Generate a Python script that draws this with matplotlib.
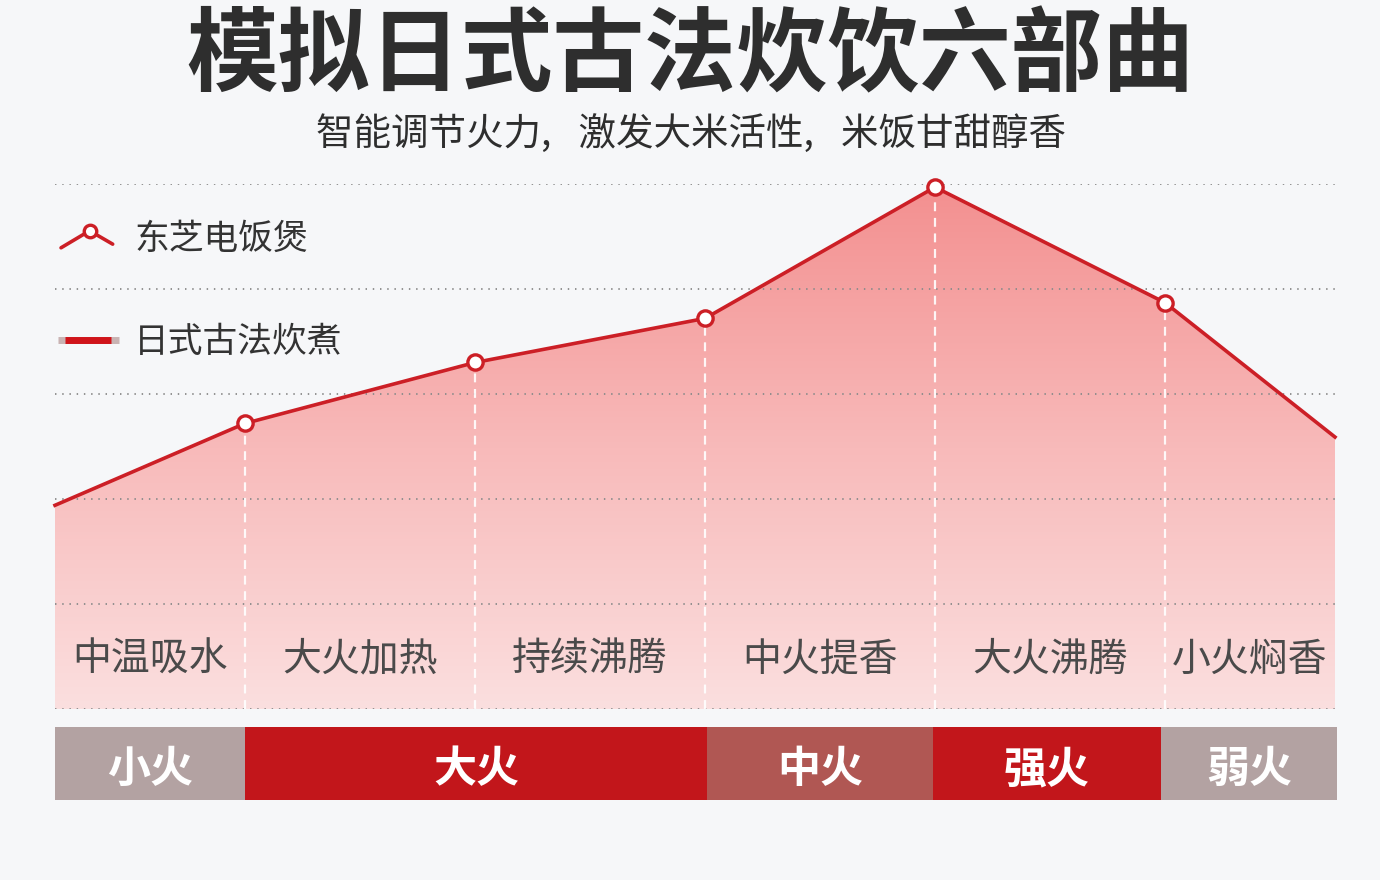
import numpy as np
import matplotlib
matplotlib.use("Agg")
import matplotlib.pyplot as plt
from matplotlib.lines import Line2D
from matplotlib.colors import LinearSegmentedColormap
from matplotlib.patches import Polygon
from matplotlib.legend_handler import HandlerBase

plt.rcParams['font.family'] = ['Noto Sans CJK SC', 'DejaVu Sans']

# ---------------- data ----------------
title = "模拟日式古法炊饮六部曲"
subtitle = "智能调节火力, \u2002激发大米活性, \u2002米饭甘甜醇香"
series_label = "东芝电饭煲"
ref_label = "日式古法炊煮"
point_x = [0, 19, 42, 65, 88, 111, 128]
point_y = [1.94, 2.72, 3.30, 3.72, 4.97, 3.87, 2.59]
stage_names = ["中温吸水", "大火加热", "持续沸腾", "中火提香", "大火沸腾", "小火焖香"]
heat_names = ["小火", "大火", "中火", "强火", "弱火"]
heat_edges = [0, 19, 65.2, 87.8, 110.6, 128.2]
heat_colors = ["#b3a2a2", "#c2161b", "#b05753", "#c2161b", "#b3a2a2"]

RED = "#cc1f26"
BG = "#f6f7f9"

W, H = 1380, 880
fig = plt.figure(figsize=(W / 100, H / 100), dpi=100, facecolor=BG)

def fx(px):
    return px / W

def fy(py):
    return 1 - py / H

# main axes: x 55..1335, y 184..709 px
ax = fig.add_axes([fx(55), fy(709), fx(1335) - fx(55), fy(184) - fy(709)])
ax.set_facecolor(BG)
ax.set_xlim(0, 128)
ax.set_ylim(0, 5)
for s in ax.spines.values():
    s.set_visible(False)
ax.set_xticks([])
ax.set_yticks([])

# gradient fill under the line
cmap = LinearSegmentedColormap.from_list("g", ["#fbdfdf", "#f8baba", "#f39090"])
grad = np.linspace(0, 1, 256).reshape(-1, 1)
im = ax.imshow(grad, cmap=cmap, origin="lower", aspect="auto",
               extent=[0, 128, 0, max(point_y)], zorder=1)
poly_pts = [(0, 0)] + list(zip(point_x, point_y)) + [(point_x[-1], 0)]
poly = Polygon(poly_pts, closed=True, facecolor="none", edgecolor="none")
ax.add_patch(poly)
im.set_clip_path(poly)

# dotted grid
for gy in range(0, 6):
    ax.axhline(gy, color="#8a8a8a", lw=1.3, linestyle=(0, (0.8, 3.2)), zorder=2)

# white dashed verticals
for xv, yv in zip(point_x[1:-1], point_y[1:-1]):
    ax.plot([xv, xv], [0, yv], color="white", lw=1.6, linestyle=(0, (4, 3)),
            zorder=3, alpha=0.9)

# main line
ax.plot(point_x, point_y, color=RED, lw=2.6, zorder=4, clip_on=False,
        solid_joinstyle="round")
ax.plot(point_x[1:-1], point_y[1:-1], linestyle="none", marker="o", ms=11,
        mfc="white", mec=RED, mew=2.4, zorder=5, clip_on=False)

# stage labels
for i, name in enumerate(stage_names):
    cx = (point_x[i] + point_x[i + 1]) / 2
    ax.text(cx, 0.47, name, ha="center", va="center", fontsize=28,
            fontweight="medium", color="#4a4a4a", zorder=6)

# heat band
bax = fig.add_axes([fx(55), fy(800), fx(1335) - fx(55), fy(727) - fy(800)])
bax.set_xlim(0, 128)
bax.set_ylim(0, 1)
bax.axis("off")
for i, name in enumerate(heat_names):
    l, r = heat_edges[i], heat_edges[i + 1]
    bax.barh(0.5, r - l, left=l, height=1, color=heat_colors[i],
             edgecolor="none", clip_on=False)
    bax.text((l + r) / 2, 0.42, name, ha="center", va="center", fontsize=31,
             fontweight="bold", color="white")

# titles
fig.text(0.5, fy(57), title, ha="center", va="center", fontsize=66,
         fontweight="heavy", color="#2e2e2e")
fig.text(fx(691), fy(134), subtitle, ha="center", va="center", fontsize=27,
         color="#2e2e2e")


# legend handlers
class ChevronHandler(HandlerBase):
    def create_artists(self, legend, orig_handle, xdescent, ydescent, width,
                       height, fontsize, trans):
        xs = np.array([0.05, 0.52, 0.9]) * width - xdescent
        ys = np.array([0.05, 0.75, 0.2]) * height - ydescent
        ln = Line2D(xs, ys, color=RED, lw=2.6, transform=trans,
                    solid_capstyle="round")
        mk = Line2D([xs[1]], [ys[1]], marker="o", ms=9, mfc="white", mec=RED,
                    mew=2.4, linestyle="none", transform=trans)
        return [ln, mk]


class BarHandler(HandlerBase):
    def create_artists(self, legend, orig_handle, xdescent, ydescent, width,
                       height, fontsize, trans):
        y = 0.5 * height - ydescent
        base = Line2D([-xdescent, width - xdescent], [y, y], color="#c9b3b3",
                      lw=5, transform=trans, solid_capstyle="butt")
        core = Line2D([-xdescent + 0.12 * width, width * 0.88 - xdescent],
                      [y, y], color="#d0141a", lw=5, transform=trans,
                      solid_capstyle="butt")
        return [base, core]


h1 = Line2D([], [])
h2 = Line2D([], [])
leg = fig.legend([h1, h2], [series_label, ref_label], loc="upper left",
                 bbox_to_anchor=(fx(58), fy(222)), frameon=False, fontsize=25,
                 handlelength=1.75, handletextpad=0.45, labelspacing=1.95,
                 borderpad=0, borderaxespad=0,
                 handler_map={h1: ChevronHandler(), h2: BarHandler()})
for t in leg.get_texts():
    t.set_color("#333333")

fig.savefig("out.png", dpi=100, facecolor=BG)
